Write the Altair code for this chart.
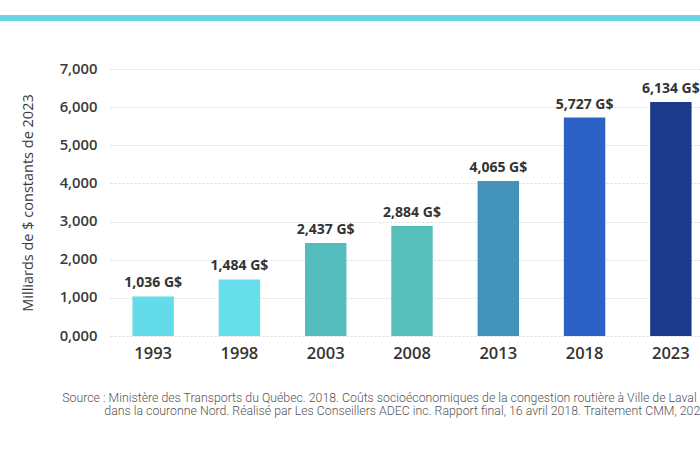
import altair as alt
import pandas as pd

years = ["1993", "1998", "2003", "2008", "2013", "2018", "2023"]
values = [1036, 1484, 2437, 2884, 4065, 5727, 6134]
labels = ["1,036 G$", "1,484 G$", "2,437 G$", "2,884 G$", "4,065 G$", "5,727 G$", "6,134 G$"]
colors = ["#63dbe8", "#66dfea", "#55bdbd", "#57bfb9", "#4393bb", "#2c62c6", "#1c3a8c"]
y_ticks = [0, 1000, 2000, 3000, 4000, 5000, 6000, 7000]
y_title = "Milliards de $ constants de 2023"
source_lines = [
    "Source : Ministère des Transports du Québec. 2018. Coûts socioéconomiques de la congestion routière à Ville de Laval et",
    "dans la couronne Nord. Réalisé par Les Conseillers ADEC inc. Rapport final, 16 avril 2018. Traitement CMM, 2024.",
]

df = pd.DataFrame({"year": years, "value": values, "label": labels})

FONT = "Open Sans"
W, H = 590, 267

x = alt.X(
    "year:N",
    sort=years,
    scale=alt.Scale(range=[0, 604], paddingInner=0.52, paddingOuter=0.26),
    axis=alt.Axis(
        title=None, labelAngle=0, ticks=False, domain=False,
        labelFont=FONT, labelFontSize=16.5, labelFontWeight=600,
        labelColor="#333333", labelPadding=9,
    ),
)
y = alt.Y(
    "value:Q",
    scale=alt.Scale(domain=[0, 7000], nice=False),
    axis=alt.Axis(
        title=y_title, values=y_ticks, tickCount=8,
        labelExpr="floor(datum.value/1000) + ',000'",
        ticks=False, domain=False,
        grid=True, gridColor="#dadada", gridDash=[2, 2], gridWidth=1,
        labelFont=FONT, labelFontSize=14.8, labelFontWeight=600,
        labelColor="#3a3a3a", labelPadding=13,
        titleFont=FONT, titleFontSize=14.5, titleFontWeight=500,
        titleColor="#3a3a3a", titlePadding=24,
    ),
)

bars = alt.Chart(df).mark_bar().encode(
    x=x,
    y=y,
    color=alt.Color("year:N", scale=alt.Scale(domain=years, range=colors), legend=None),
)

text = alt.Chart(df).mark_text(
    baseline="bottom", dy=-6, font=FONT, fontSize=14, fontWeight=700, color="#333333"
).encode(x=x, y=y, text="label:N")

top_rule = alt.Chart(df).mark_rule(color="#6ad4e4", strokeWidth=5).encode(
    x=alt.value(-110), x2=alt.value(W), y=alt.value(-51)
)

chart = (
    alt.layer(top_rule, bars, text)
    .properties(
        width=W,
        height=H,
        background="white",
        autosize=alt.AutoSizeParams(type="none"),
        padding={"left": 110, "top": 69, "right": 0, "bottom": 114},
        title=alt.TitleParams(
            text=source_lines,
            orient="bottom",
            anchor="end",
            align="right",
            dx=-4,
            offset=30,
            font="Roboto",
            fontSize=12.3,
            fontWeight=300,
            color="#555555",
            lineHeight=13.3,
        ),
    )
    .configure_view(strokeWidth=0, stroke=None)
)

chart.save("out.html", embed_options={"renderer": "svg", "actions": False})
